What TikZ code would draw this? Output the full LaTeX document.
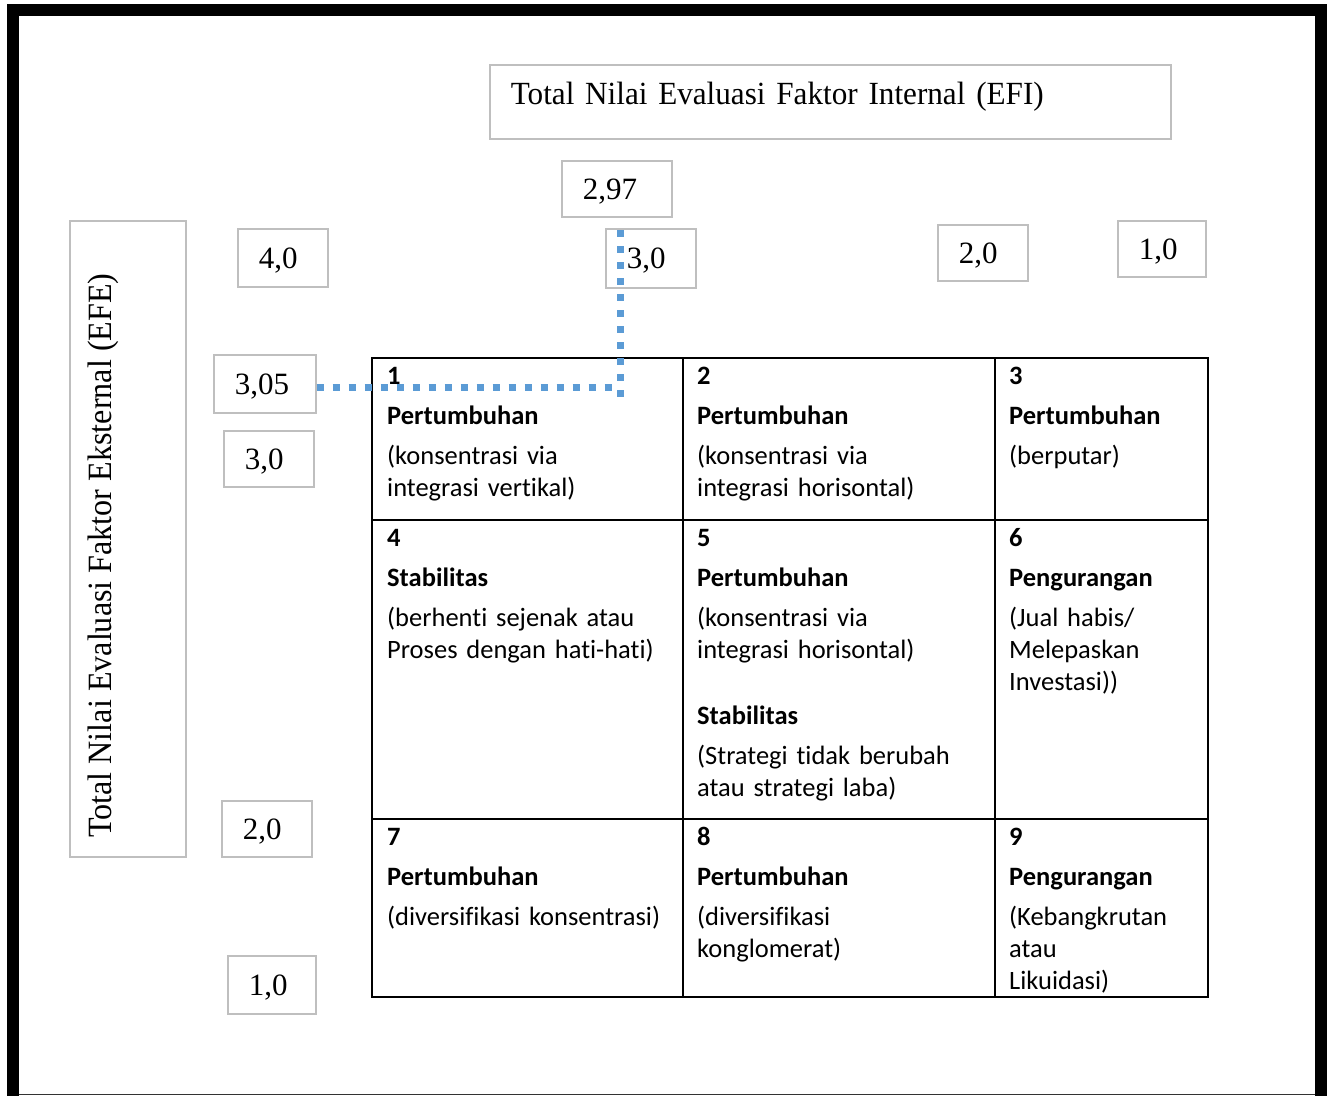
\documentclass[tikz,border=0pt]{standalone}
\usepackage{fontspec}
\setmainfont{Liberation Serif}
\newfontfamily\gridfont[Ligatures=NoCommon]{Carlito}
\newfontfamily\efifont[FakeStretch=0.965]{Liberation Serif}
\newfontfamily\efefont[FakeStretch=0.945]{Liberation Serif}
\definecolor{boxgray}{HTML}{BFBFBF}
\definecolor{dotblue}{HTML}{5B9BD5}
\tikzset{
  valbox/.style={draw=boxgray, line width=1.6pt, anchor=north west, inner xsep=21pt, inner ysep=0pt,
    align=left, font=\fontsize{31}{36}\selectfont, text height=30pt, text depth=9pt},
  celltext/.style={anchor=north west, inner sep=0pt, align=left, text width=290pt,
    font=\gridfont\fontsize{26.5}{32}\selectfont},
  dotline/.style={draw=dotblue, line width=7pt, dash pattern=on 7pt off 9pt},
  gridline/.style={line width=2.2pt, black}
}
\newcommand{\cellfirst}[1]{\rule{0pt}{20pt}\textbf{#1}\\[8pt]}
\begin{document}
\begin{tikzpicture}[x=1pt,y=1pt]
\useasboundingbox (0,0) rectangle (1333,-1096);
% frame
\fill[black] (7,-4) rectangle (19,-1096);
\fill[black] (7,-4) rectangle (1327,-16);
\fill[black] (1315,-4) rectangle (1327,-1096);
\draw[line width=1.6pt, black!80] (19,-1094.5) -- (1315,-1094.5);

% value boxes
\node[valbox, minimum width=681pt, minimum height=74pt, text width=639pt, text depth=24pt, font=\efifont\fontsize{32.3}{38}\selectfont] (efi) at (489,-64) {Total Nilai Evaluasi Faktor Internal (EFI)};
\node[valbox, minimum width=110pt, minimum height=56pt, text width=68pt] (v297) at (561,-160) {2,97};
\node[valbox, minimum width=90pt, minimum height=59pt, text width=48pt] (v30t) at (605,-228) {3,0};
\node[valbox, minimum width=90pt, minimum height=58pt, text width=48pt] (v40) at (237,-228) {4,0};
\node[valbox, minimum width=90pt, minimum height=56pt, text width=48pt] (v20t) at (937,-224) {2,0};
\node[valbox, minimum width=88pt, minimum height=56pt, text width=46pt] (v10t) at (1117,-220) {1,0};
\node[valbox, minimum width=102pt, minimum height=58pt, text width=60pt] (v305) at (213,-354) {3,05};
\node[valbox, minimum width=90pt, minimum height=56pt, text width=48pt] (v30l) at (223,-430) {3,0};
\node[valbox, minimum width=90pt, minimum height=56pt, text width=48pt] (v20l) at (221,-800) {2,0};
\node[valbox, minimum width=88pt, minimum height=58pt, text width=46pt] (v10l) at (227,-955) {1,0};

% EFE vertical box
\draw[draw=boxgray, line width=1.6pt] (70,-221) rectangle (186,-857);
\node[anchor=base west, rotate=90, inner sep=0pt, font=\efefont\fontsize{34}{40}\selectfont] (efe) at (111,-838) {Total Nilai Evaluasi Faktor Eksternal (EFE)};

% grid
\draw[gridline] (372,-358) rectangle (1208,-997);
\draw[gridline] (683,-358) -- (683,-997);
\draw[gridline] (995,-358) -- (995,-997);
\draw[gridline] (372,-520) -- (1208,-520);
\draw[gridline] (372,-819) -- (1208,-819);

% dotted guide lines
\coordinate (hEnd) at (612,-387);
\coordinate (vTop) at (620,-230);
\coordinate (vBot) at (620,-397);
\draw[dotline] (v305.east |- hEnd) -- (hEnd);
\draw[dotline] (vTop) -- (vBot);

% cell texts
\node[celltext] (c1) at (387,-364) {\cellfirst{1}\textbf{Pertumbuhan}\\[8pt](konsentrasi via\\integrasi vertikal)};
\node[celltext] (c2) at (697,-364) {\cellfirst{2}\textbf{Pertumbuhan}\\[8pt](konsentrasi via\\integrasi horisontal)};
\node[celltext, text width=190pt] (c3) at (1009,-364) {\cellfirst{3}\textbf{Pertumbuhan}\\[8pt](berputar)};
\node[celltext] (c4) at (387,-526) {\cellfirst{4}\textbf{Stabilitas}\\[8pt](berhenti sejenak atau\\Proses dengan hati-hati)};
\node[celltext] (c5) at (697,-526) {\cellfirst{5}\textbf{Pertumbuhan}\\[8pt](konsentrasi via\\integrasi horisontal)\\[34pt]\textbf{Stabilitas}\\[8pt](Strategi tidak berubah\\atau strategi laba)};
\node[celltext, text width=190pt] (c6) at (1009,-526) {\cellfirst{6}\textbf{Pengurangan}\\[8pt](Jual habis/\\Melepaskan\\Investasi))};
\node[celltext] (c7) at (387,-825) {\cellfirst{7}\textbf{Pertumbuhan}\\[8pt](diversifikasi konsentrasi)};
\node[celltext] (c8) at (697,-825) {\cellfirst{8}\textbf{Pertumbuhan}\\[8pt](diversifikasi\\konglomerat)};
\node[celltext, text width=190pt] (c9) at (1009,-825) {\cellfirst{9}\textbf{Pengurangan}\\[8pt](Kebangkrutan\\atau\\Likuidasi)};
\end{tikzpicture}
\end{document}
